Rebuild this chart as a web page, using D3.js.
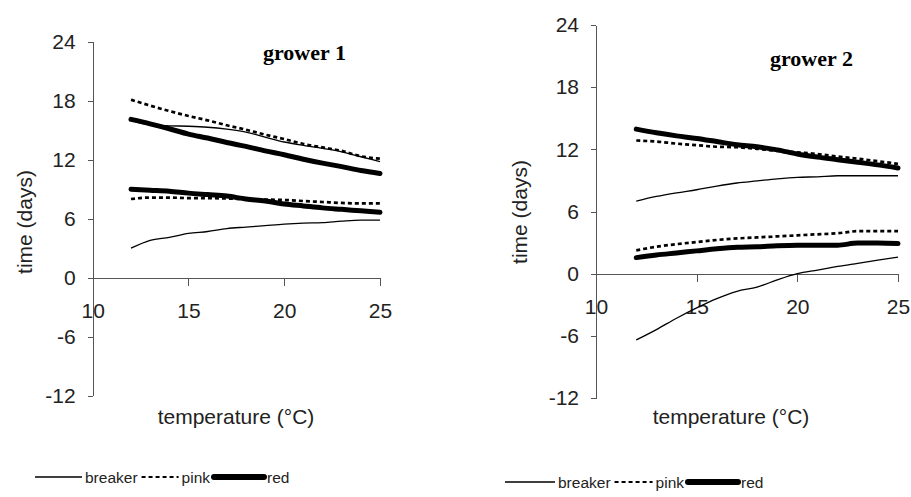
<!DOCTYPE html>
<html>
<head>
<meta charset="utf-8">
<script src="https://cdn.jsdelivr.net/npm/d3@7"></script>
<style>
  body { margin: 0; background: #fff; }
  svg { display: block; font-family: "Liberation Sans", Arial, sans-serif; }
  .axis path, .axis line { stroke: #555; shape-rendering: crispEdges; }
  .axis text { font-size: 21px; fill: #222; }
  .title { font-family: "Liberation Serif", "Times New Roman", serif; font-weight: bold; font-size: 22px; }
  .lbl { font-size: 21px; fill: #222; }
  .leg { font-size: 15.5px; fill: #222; }
</style>
</head>
<body>
<div id="chart"></div>
<script>
//Data
var temps = [12, 13, 14, 15, 16, 17, 18, 19, 20, 21, 22, 23, 24, 25];
var xTicks = [10, 15, 20, 25];
var yTicks = [-12, -6, 0, 6, 12, 18, 24];
var stages = ["breaker", "pink", "red"];

//grower 1 (upper and lower curve per stage)
var g1BreakerHi = [16.0, 15.55, 15.45, 15.4, 15.3, 15.1, 14.8, 14.3, 13.8, 13.45, 13.15, 12.8, 12.3, 11.8];
var g1BreakerLo = [3.0, 3.8, 4.1, 4.5, 4.7, 5.0, 5.15, 5.3, 5.45, 5.55, 5.6, 5.75, 5.85, 5.85];
var g1PinkHi = [18.1, 17.5, 16.95, 16.45, 16.0, 15.5, 15.05, 14.55, 14.1, 13.6, 13.25, 12.9, 12.35, 12.1];
var g1PinkLo = [8.0, 8.15, 8.15, 8.1, 8.1, 8.05, 8.0, 7.95, 7.9, 7.8, 7.7, 7.6, 7.55, 7.55];
var g1RedHi = [16.1, 15.65, 15.15, 14.6, 14.2, 13.75, 13.35, 12.9, 12.5, 12.05, 11.65, 11.3, 10.9, 10.6];
var g1RedLo = [9.0, 8.9, 8.8, 8.6, 8.45, 8.3, 8.0, 7.8, 7.5, 7.3, 7.1, 6.95, 6.8, 6.65];

//grower 2
var g2BreakerHi = [7.0, 7.45, 7.8, 8.1, 8.45, 8.75, 8.95, 9.15, 9.3, 9.35, 9.45, 9.45, 9.45, 9.45];
var g2BreakerLo = [-6.4, -5.4, -4.3, -3.3, -2.4, -1.7, -1.3, -0.6, 0.0, 0.35, 0.7, 1.0, 1.3, 1.6];
var g2PinkHi = [12.85, 12.75, 12.55, 12.4, 12.25, 12.2, 12.05, 11.85, 11.7, 11.55, 11.3, 11.1, 10.85, 10.6];
var g2PinkLo = [2.25, 2.6, 2.85, 3.05, 3.25, 3.4, 3.5, 3.6, 3.7, 3.8, 3.9, 4.1, 4.1, 4.1];
var g2RedHi = [13.95, 13.6, 13.3, 13.05, 12.75, 12.45, 12.25, 11.95, 11.55, 11.25, 11.0, 10.75, 10.5, 10.2];
var g2RedLo = [1.55, 1.8, 2.0, 2.2, 2.4, 2.55, 2.6, 2.7, 2.75, 2.75, 2.75, 2.95, 2.95, 2.9];

//line look per stage
var styles = {
    breaker: { width: 1.3, dash: null, cap: "butt", legW: 1.3 },
    pink: { width: 2.7, dash: "4,3", cap: "butt", legW: 2 },
    red: { width: 5, dash: null, cap: "round", legW: 6 }
};

var panels = [
    { title: "grower 1", left: 92.7, right: 380, top: 41.7, bottom: 395.7,
      titleX: 263, titleY: 60, ylabX: 25, ylabY: 222, xlabX: 236, xlabY: 424,
      legX: 35, legY: 477, legLens: [47, 37, 50],
      series: [["breaker", g1BreakerHi], ["breaker", g1BreakerLo], ["pink", g1PinkHi],
               ["pink", g1PinkLo], ["red", g1RedHi], ["red", g1RedLo]] },
    { title: "grower 2", left: 596, right: 898, top: 25, bottom: 398,
      titleX: 770, titleY: 66, ylabX: 520, ylabY: 212, xlabX: 731, xlabY: 424,
      legX: 505, legY: 482, legLens: [50, 38, 50],
      series: [["breaker", g2BreakerHi], ["breaker", g2BreakerLo], ["pink", g2PinkHi],
               ["pink", g2PinkLo], ["red", g2RedHi], ["red", g2RedLo]] }
];

var svg = d3.select("#chart")
    .append("svg")
    .attr("width", 911)
    .attr("height", 497);

panels.forEach(function(p) {

    var x = d3.scaleLinear().domain([10, 25]).range([p.left, p.right]);
    var y = d3.scaleLinear().domain([-12, 24]).range([p.bottom, p.top]);

    //Axes
    svg.append("g")
        .attr("class", "axis")
        .attr("transform", "translate(" + p.left + ",0)")
        .call(d3.axisLeft(y).tickValues(yTicks).tickSize(5).tickSizeOuter(0).tickPadding(12)
            .tickFormat(function(d) { return String(d); }));

    svg.append("g")
        .attr("class", "axis")
        .attr("transform", "translate(0," + y(0) + ")")
        .call(d3.axisBottom(x).tickValues(xTicks).tickSize(8).tickSizeOuter(0).tickPadding(17));

    //Curves
    p.series.forEach(function(s) {
        var st = styles[s[0]];
        var line = d3.line()
            .x(function(d, i) { return x(temps[i]); })
            .y(function(d) { return y(d); })
            .curve(d3.curveMonotoneX);
        svg.append("path")
            .datum(s[1])
            .attr("d", line)
            .attr("fill", "none")
            .attr("stroke", "#000")
            .attr("stroke-width", st.width)
            .attr("stroke-dasharray", st.dash)
            .attr("stroke-linecap", st.cap)
            .attr("stroke-linejoin", "round");
    });

    //Texts
    svg.append("text")
        .attr("class", "title")
        .attr("x", p.titleX)
        .attr("y", p.titleY)
        .text(p.title);

    svg.append("text")
        .attr("class", "lbl")
        .attr("text-anchor", "middle")
        .attr("transform", "translate(" + p.ylabX + "," + p.ylabY + ") rotate(-90)")
        .attr("dy", "0.35em")
        .text("time (days)");

    svg.append("text")
        .attr("class", "lbl")
        .attr("text-anchor", "middle")
        .attr("x", p.xlabX)
        .attr("y", p.xlabY)
        .text("temperature (°C)");

    //Legend
    var leg = svg.append("g").attr("transform", "translate(" + p.legX + "," + p.legY + ")");
    var cx = 0;
    stages.forEach(function(k, i) {
        var st = styles[k];
        var len = p.legLens[i];
        leg.append("line")
            .attr("x1", cx).attr("x2", cx + len)
            .attr("y1", 0).attr("y2", 0)
            .attr("stroke", "#000")
            .attr("stroke-width", st.legW)
            .attr("stroke-dasharray", st.dash)
            .attr("stroke-linecap", st.cap);
        var t = leg.append("text")
            .attr("class", "leg")
            .attr("x", cx + len + 3)
            .attr("y", 5.5)
            .text(k);
        cx += len + 3 + t.node().getComputedTextLength() + 4;
    });
});
</script>
</body>
</html>
